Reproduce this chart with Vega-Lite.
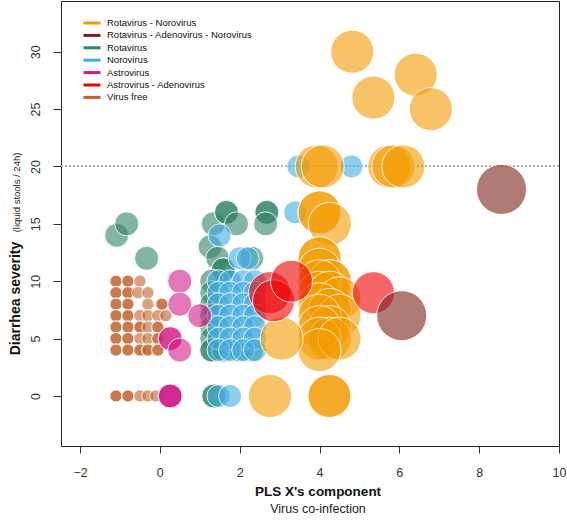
{
"$schema": "https://vega.github.io/schema/vega-lite/v6.json",
"width": 498, "height": 445,
"autosize": "none",
"padding": {"left": 61, "top": 1, "right": 8, "bottom": 78},
"background": "white",
"config": {"view": {"stroke": "#222", "strokeWidth": 1}, "font": "Liberation Sans"},
"title": {"text": "PLS X's component", "subtitle": "Virus co-infection", "orient": "bottom", "anchor": "middle", "frame": "group", "offset": 6, "dx": 8, "font": "Liberation Sans", "fontSize": 13.5, "fontWeight": "bold", "color": "#111", "subtitleFont": "Liberation Sans", "subtitleFontSize": 12.5, "subtitleColor": "#222", "subtitlePadding": 5},
"data": {"values": [
{"x":-1.1,"y":10,"g":"Virus free"},{"x":-1.1,"y":10,"g":"Virus free"},{"x":-0.8,"y":10,"g":"Virus free"},{"x":-0.8,"y":10,"g":"Virus free"},{"x":-0.5,"y":10,"g":"Virus free"},
{"x":-1.1,"y":9,"g":"Virus free"},{"x":-1.1,"y":9,"g":"Virus free"},{"x":-0.8,"y":9,"g":"Virus free"},{"x":-0.8,"y":9,"g":"Virus free"},{"x":-0.55,"y":9,"g":"Virus free"},{"x":-0.3,"y":9,"g":"Virus free"},
{"x":-1.1,"y":8,"g":"Virus free"},{"x":-1.1,"y":8,"g":"Virus free"},{"x":-0.8,"y":8,"g":"Virus free"},{"x":-0.8,"y":8,"g":"Virus free"},{"x":-0.3,"y":8,"g":"Virus free"},{"x":0.05,"y":8,"g":"Virus free"},{"x":0.05,"y":8,"g":"Virus free"},
{"x":-1.1,"y":7,"g":"Virus free"},{"x":-1.1,"y":7,"g":"Virus free"},{"x":-0.8,"y":7,"g":"Virus free"},{"x":-0.8,"y":7,"g":"Virus free"},{"x":-0.5,"y":7,"g":"Virus free"},{"x":-0.3,"y":7,"g":"Virus free"},{"x":-0.05,"y":7,"g":"Virus free"},{"x":0.15,"y":7,"g":"Virus free"},
{"x":-1.1,"y":6,"g":"Virus free"},{"x":-1.1,"y":6,"g":"Virus free"},{"x":-0.8,"y":6,"g":"Virus free"},{"x":-0.8,"y":6,"g":"Virus free"},{"x":-0.5,"y":6,"g":"Virus free"},{"x":-0.5,"y":6,"g":"Virus free"},{"x":-0.3,"y":6,"g":"Virus free"},{"x":-0.05,"y":6,"g":"Virus free"},{"x":-0.05,"y":6,"g":"Virus free"},
{"x":-1.1,"y":5,"g":"Virus free"},{"x":-1.1,"y":5,"g":"Virus free"},{"x":-0.8,"y":5,"g":"Virus free"},{"x":-0.8,"y":5,"g":"Virus free"},{"x":-0.5,"y":5,"g":"Virus free"},{"x":-0.3,"y":5,"g":"Virus free"},{"x":-0.05,"y":5,"g":"Virus free"},{"x":-0.05,"y":5,"g":"Virus free"},
{"x":-1.1,"y":4,"g":"Virus free"},{"x":-1.1,"y":4,"g":"Virus free"},{"x":-0.8,"y":4,"g":"Virus free"},{"x":-0.8,"y":4,"g":"Virus free"},{"x":-0.5,"y":4,"g":"Virus free"},{"x":-0.5,"y":4,"g":"Virus free"},{"x":-0.3,"y":4,"g":"Virus free"},{"x":-0.3,"y":4,"g":"Virus free"},{"x":-0.05,"y":4,"g":"Virus free"},{"x":-0.05,"y":4,"g":"Virus free"},
{"x":-1.1,"y":0,"g":"Virus free"},{"x":-1.1,"y":0,"g":"Virus free"},{"x":-0.8,"y":0,"g":"Virus free"},{"x":-0.8,"y":0,"g":"Virus free"},{"x":-0.5,"y":0,"g":"Virus free"},{"x":-0.3,"y":0,"g":"Virus free"},{"x":-0.1,"y":0,"g":"Virus free"},
{"x":-1.08,"y":14,"g":"Rotavirus"},{"x":-0.83,"y":15,"g":"Rotavirus"},{"x":-0.33,"y":12,"g":"Rotavirus"},
{"x":1.34,"y":15,"g":"Rotavirus"},{"x":1.67,"y":16,"g":"Rotavirus"},{"x":1.67,"y":16,"g":"Rotavirus"},{"x":1.92,"y":15,"g":"Rotavirus"},{"x":1.26,"y":13,"g":"Rotavirus"},{"x":1.45,"y":12,"g":"Rotavirus"},{"x":1.59,"y":11,"g":"Rotavirus"},{"x":1.59,"y":11,"g":"Rotavirus"},{"x":2.3,"y":12,"g":"Rotavirus"},{"x":2.68,"y":16,"g":"Rotavirus"},{"x":2.68,"y":16,"g":"Rotavirus"},{"x":2.65,"y":15,"g":"Rotavirus"},
{"x":1.3,"y":10,"g":"Rotavirus"},{"x":1.3,"y":9,"g":"Rotavirus"},{"x":1.3,"y":8,"g":"Rotavirus"},{"x":1.3,"y":7,"g":"Rotavirus"},{"x":1.3,"y":6,"g":"Rotavirus"},{"x":1.3,"y":5,"g":"Rotavirus"},{"x":1.3,"y":4,"g":"Rotavirus"},{"x":1.3,"y":4,"g":"Rotavirus"},{"x":1.6,"y":4,"g":"Rotavirus"},{"x":2.0,"y":4,"g":"Rotavirus"},{"x":2.3,"y":4,"g":"Rotavirus"},
{"x":1.35,"y":0,"g":"Rotavirus"},{"x":1.35,"y":0,"g":"Rotavirus"},
{"x":1.5,"y":14,"g":"Norovirus"},{"x":2.0,"y":12,"g":"Norovirus"},{"x":2.2,"y":12,"g":"Norovirus"},
{"x":1.47,"y":10,"g":"Norovirus"},{"x":1.76,"y":10,"g":"Norovirus"},{"x":2.09,"y":10,"g":"Norovirus"},{"x":2.38,"y":10,"g":"Norovirus"},
{"x":1.47,"y":9,"g":"Norovirus"},{"x":1.76,"y":9,"g":"Norovirus"},{"x":2.09,"y":9,"g":"Norovirus"},{"x":2.38,"y":9,"g":"Norovirus"},
{"x":1.47,"y":8,"g":"Norovirus"},{"x":1.76,"y":8,"g":"Norovirus"},{"x":2.09,"y":8,"g":"Norovirus"},{"x":2.38,"y":8,"g":"Norovirus"},
{"x":1.47,"y":7,"g":"Norovirus"},{"x":1.76,"y":7,"g":"Norovirus"},{"x":2.09,"y":7,"g":"Norovirus"},{"x":2.38,"y":7,"g":"Norovirus"},
{"x":1.47,"y":6,"g":"Norovirus"},{"x":1.76,"y":6,"g":"Norovirus"},{"x":2.09,"y":6,"g":"Norovirus"},{"x":2.38,"y":6,"g":"Norovirus"},
{"x":1.47,"y":5,"g":"Norovirus"},{"x":1.76,"y":5,"g":"Norovirus"},{"x":2.09,"y":5,"g":"Norovirus"},{"x":2.38,"y":5,"g":"Norovirus"},
{"x":1.47,"y":4,"g":"Norovirus"},{"x":1.76,"y":4,"g":"Norovirus"},{"x":2.09,"y":4,"g":"Norovirus"},{"x":2.38,"y":4,"g":"Norovirus"},
{"x":1.47,"y":0,"g":"Norovirus"},{"x":1.76,"y":0,"g":"Norovirus"},
{"x":3.39,"y":16,"g":"Norovirus"},{"x":3.47,"y":20,"g":"Norovirus"},{"x":4.8,"y":20,"g":"Norovirus"},
{"x":0.5,"y":10,"g":"Astrovirus"},{"x":0.5,"y":8,"g":"Astrovirus"},{"x":1.0,"y":7,"g":"Astrovirus"},{"x":0.26,"y":5,"g":"Astrovirus"},{"x":0.26,"y":5,"g":"Astrovirus"},{"x":0.5,"y":4,"g":"Astrovirus"},{"x":0.26,"y":0,"g":"Astrovirus"},{"x":0.26,"y":0,"g":"Astrovirus"},{"x":0.26,"y":0,"g":"Astrovirus"},
{"x":4.82,"y":30,"g":"Rotavirus - Norovirus"},{"x":6.41,"y":28,"g":"Rotavirus - Norovirus"},{"x":5.35,"y":26,"g":"Rotavirus - Norovirus"},{"x":6.79,"y":25,"g":"Rotavirus - Norovirus"},
{"x":3.93,"y":20,"g":"Rotavirus - Norovirus"},{"x":4.08,"y":20,"g":"Rotavirus - Norovirus"},{"x":5.75,"y":20,"g":"Rotavirus - Norovirus"},{"x":5.85,"y":20,"g":"Rotavirus - Norovirus"},{"x":6.1,"y":20,"g":"Rotavirus - Norovirus"},
{"x":4.0,"y":16,"g":"Rotavirus - Norovirus"},{"x":4.0,"y":16,"g":"Rotavirus - Norovirus"},{"x":4.26,"y":15,"g":"Rotavirus - Norovirus"},
{"x":4.0,"y":12,"g":"Rotavirus - Norovirus"},{"x":4.0,"y":12,"g":"Rotavirus - Norovirus"},{"x":4.0,"y":11,"g":"Rotavirus - Norovirus"},{"x":4.26,"y":10,"g":"Rotavirus - Norovirus"},{"x":4.26,"y":10,"g":"Rotavirus - Norovirus"},{"x":4.0,"y":10,"g":"Rotavirus - Norovirus"},{"x":4.0,"y":9,"g":"Rotavirus - Norovirus"},{"x":4.26,"y":9,"g":"Rotavirus - Norovirus"},{"x":4.5,"y":8.5,"g":"Rotavirus - Norovirus"},{"x":4.0,"y":8,"g":"Rotavirus - Norovirus"},{"x":4.26,"y":7.5,"g":"Rotavirus - Norovirus"},{"x":4.5,"y":7,"g":"Rotavirus - Norovirus"},{"x":4.0,"y":7,"g":"Rotavirus - Norovirus"},{"x":4.26,"y":6,"g":"Rotavirus - Norovirus"},{"x":4.0,"y":6,"g":"Rotavirus - Norovirus"},{"x":4.26,"y":5,"g":"Rotavirus - Norovirus"},{"x":4.0,"y":5,"g":"Rotavirus - Norovirus"},{"x":4.5,"y":5,"g":"Rotavirus - Norovirus"},{"x":4.0,"y":4,"g":"Rotavirus - Norovirus"},
{"x":3.05,"y":5,"g":"Rotavirus - Norovirus"},{"x":2.76,"y":0,"g":"Rotavirus - Norovirus"},{"x":4.25,"y":0,"g":"Rotavirus - Norovirus"},{"x":4.25,"y":0,"g":"Rotavirus - Norovirus"},
{"x":2.75,"y":9,"g":"Astrovirus - Adenovirus"},{"x":2.85,"y":8.3,"g":"Astrovirus - Adenovirus"},{"x":3.3,"y":10,"g":"Astrovirus - Adenovirus"},{"x":5.35,"y":9,"g":"Astrovirus - Adenovirus"},
{"x":6.06,"y":7,"g":"Rotavirus - Adenovirus - Norovirus"},{"x":8.56,"y":18,"g":"Rotavirus - Adenovirus - Norovirus"}
]},
"layer": [
{"mark": {"type": "rule", "stroke": "#aaaaaa", "strokeDash": [2, 2], "strokeWidth": 1},
 "encoding": {"y": {"datum": 20, "type": "quantitative", "scale": {"domain": [-4.36, 34.42], "nice": false, "zero": false},
   "axis": {"orient": "left", "title": "(liquid stools / 24h)", "labels": false, "ticks": false, "domain": false, "grid": false, "titleFont": "Liberation Sans", "titleFontSize": 9.5, "titleFontWeight": "normal", "titleColor": "#222", "titleX": -42, "titleY": 191, "titleAngle": 270, "titleBaseline": "alphabetic", "titleAlign": "center"}}}},
{"mark": {"type": "point", "filled": true, "fillOpacity": 0.6, "stroke": "white", "strokeOpacity": 0.85, "strokeWidth": 1, "shape": "circle"},
 "encoding": {
  "x": {"field": "x", "type": "quantitative", "scale": {"domain": [-2.476, 10], "nice": false, "zero": false},
    "axis": {"title": null, "values": [-2, 0, 2, 4, 6, 8, 10], "grid": false, "domain": false, "tickSize": 7, "tickColor": "#333", "labelFontSize": 12.5, "labelColor": "#333", "labelPadding": 13, "labelFlush": false}},
  "y": {"field": "y", "type": "quantitative", "scale": {"domain": [-4.36, 34.42], "nice": false, "zero": false},
    "axis": {"orient": "left", "title": "Diarrhea severity", "values": [0, 5, 10, 15, 20, 25, 30], "grid": false, "domain": false, "tickSize": 8, "tickColor": "#333", "labelFontSize": 12.5, "labelColor": "#333", "labelAngle": -90, "labelAlign": "center", "labelBaseline": "bottom", "labelPadding": 11, "labelFlush": false, "titleFont": "Liberation Sans", "titleFontSize": 14, "titleFontWeight": "bold", "titleColor": "#111", "titleX": -42, "titleY": 297, "titleAngle": 270, "titleBaseline": "alphabetic", "titleAlign": "center"}},
  "color": {"field": "g", "type": "nominal",
    "scale": {"domain": ["Rotavirus - Norovirus", "Rotavirus - Adenovirus - Norovirus", "Rotavirus", "Norovirus", "Astrovirus", "Astrovirus - Adenovirus", "Virus free"],
              "range": ["#F39B00", "#7B2318", "#2F8466", "#41ACE3", "#D01C88", "#EE0000", "#C0602A"]},
    "legend": {"orient": "none", "legendX": 26, "legendY": 17, "title": null, "padding": 0, "symbolType": "M-1.7,-0.3H1.7V0.3H-1.7Z", "symbolSize": 100, "symbolOpacity": 1, "symbolStrokeWidth": 0, "labelFont": "Liberation Sans", "labelFontSize": 9.5, "labelColor": "#111", "labelOffset": 10, "rowPadding": 2.4, "labelLimit": 300}},
  "size": {"condition": [
      {"test": "datum.g === 'Virus free'", "value": 150},
      {"test": "datum.g === 'Norovirus'", "value": 529},
      {"test": "datum.g === 'Rotavirus - Norovirus'", "value": 1850},
      {"test": "datum.g === 'Astrovirus - Adenovirus'", "value": 1764},
      {"test": "datum.g === 'Rotavirus - Adenovirus - Norovirus'", "value": 2500}
    ], "value": 576}
 }}
],
"resolve": {"axis": {"y": "independent"}}
}
